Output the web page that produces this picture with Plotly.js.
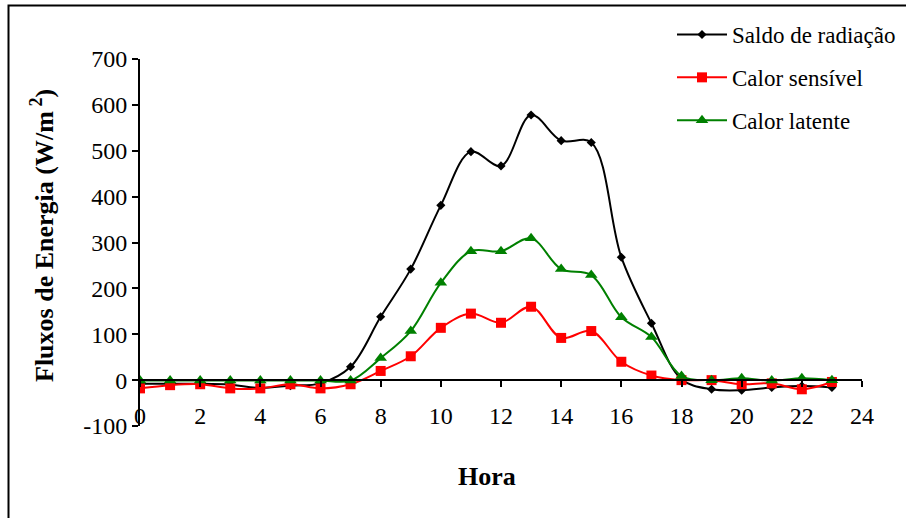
<!DOCTYPE html>
<html>
<head>
<meta charset="utf-8">
<script src="https://cdn.plot.ly/plotly-3.0.1.min.js"></script>
<style>
  html, body { margin: 0; padding: 0; background: #fff; }
  #chart { width: 906px; height: 518px; }
</style>
</head>
<body>
<div id="chart"></div>
<script>
// ---- Data ----
var hours = [0,1,2,3,4,5,6,7,8,9,10,11,12,13,14,15,16,17,18,19,20,21,22,23];
var saldoRadiacao = [-8,-8,-8,-10,-17,-12,-7,29,138,242,381,498,467,578,522,518,268,124,2,-20,-22,-16,-13,-16];
var calorSensivel = [-18,-11,-9,-18,-18,-9,-18,-9,20,52,114,145,125,160,92,107,40,10,0,0,-9,-7,-20,-4];
var calorLatente  = [-1,-1,-1,-1,-1,-1,-1,-1,48,107,212,281,281,309,242,229,137,94,9,0,4,-1,4,0];
var seriesNames = ['Saldo de radiação', 'Calor sensível', 'Calor latente'];
var yTickVals = [-100,0,100,200,300,400,500,600,700];
var yTickText = ['-100','0','100','200','300','400','500','600','700'];
var xTitle = 'Hora';
var yTitle = 'Fluxos de Energia (W/m<sup> 2</sup>)';

// ---- Layout geometry (pixels) ----
var W = 906, H = 518;
var L = 140, R = 44, T = 59, B = 92;
var pw = W - L - R, ph = H - T - B;
function px(x) { return (x - L) / pw; }
function py(y) { return (H - B - y) / ph; }

var serif = 'Liberation Serif, Times New Roman, serif';

var traces = [
  {
    x: hours, y: saldoRadiacao, name: seriesNames[0], type: 'scatter', mode: 'lines+markers',
    line: { color: '#000000', width: 2, shape: 'spline', smoothing: 1 },
    marker: { symbol: 'diamond', size: 7, color: '#000000' },
    legendgroup: 'a'
  },
  {
    x: hours, y: calorSensivel, name: seriesNames[1], type: 'scatter', mode: 'lines+markers',
    line: { color: '#ff0000', width: 2, shape: 'spline', smoothing: 1 },
    marker: { symbol: 'square', size: 10, color: '#ff0000' },
    legendgroup: 'b'
  },
  {
    x: hours, y: calorLatente, name: seriesNames[2], type: 'scatter', mode: 'lines+markers',
    line: { color: '#008000', width: 2, shape: 'spline', smoothing: 1 },
    marker: { symbol: 'triangle-up', size: 11, color: '#008000' },
    legendgroup: 'c'
  }
];

var layout = {
  width: W, height: H,
  margin: { l: L, r: R, t: T, b: B, pad: 0, autoexpand: false },
  paper_bgcolor: '#ffffff', plot_bgcolor: '#ffffff',
  font: { family: serif, size: 24, color: '#000000' },
  showlegend: true,
  legend: {
    x: px(672), y: py(13), xanchor: 'left', yanchor: 'top',
    font: { family: serif, size: 23, color: '#000' },
    tracegroupgap: 10, bgcolor: 'rgba(0,0,0,0)', itemwidth: 50
  },
  xaxis: {
    range: [0, 24], dtick: 2, tick0: 0,
    anchor: 'free', position: 0.125,
    showline: true, linecolor: '#000', linewidth: 2,
    ticks: 'outside', ticklen: 6, tickwidth: 2, tickcolor: '#000',
    showgrid: false, zeroline: false,
    tickfont: { family: serif, size: 24, color: '#000' },
    ticklabelstandoff: 8
  },
  yaxis: {
    range: [-100, 700], tickmode: 'array', tickvals: yTickVals, ticktext: yTickText,
    showline: true, linecolor: '#000', linewidth: 2,
    ticks: 'outside', ticklen: 6, tickwidth: 2, tickcolor: '#000',
    showgrid: false, zeroline: false,
    tickfont: { family: serif, size: 24, color: '#000' }
  },
  annotations: [
    { text: '<b>' + xTitle + '</b>', xref: 'paper', yref: 'paper', x: px(487), y: py(476),
      xanchor: 'center', yanchor: 'middle', showarrow: false,
      font: { family: serif, size: 26, color: '#000' } },
    { text: '<b>' + yTitle + '</b>', xref: 'paper', yref: 'paper', x: px(42), y: py(236),
      xanchor: 'center', yanchor: 'middle', showarrow: false, textangle: -90,
      font: { family: serif, size: 26, color: '#000' } }
  ],
  shapes: [
    { type: 'rect', xref: 'paper', yref: 'paper',
      x0: px(8.5), x1: px(915), y0: py(525), y1: py(5.5),
      line: { color: '#000', width: 2 }, fillcolor: 'rgba(0,0,0,0)', layer: 'below' }
  ]
};

Plotly.newPlot('chart', traces, layout, { displayModeBar: false, staticPlot: true });
</script>
</body>
</html>
